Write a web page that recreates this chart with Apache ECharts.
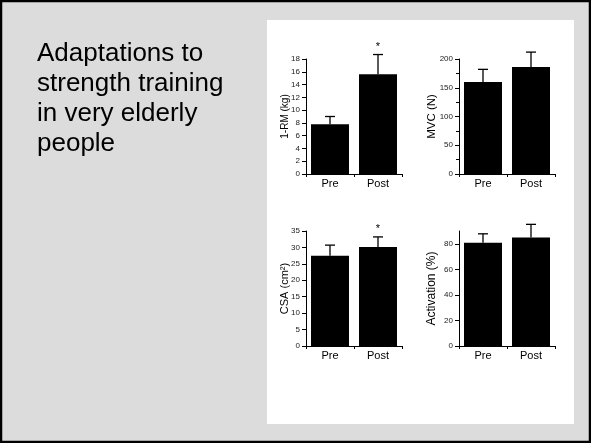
<!DOCTYPE html>
<html>
<head>
<meta charset="utf-8">
<script src="https://cdn.jsdelivr.net/npm/echarts@6/dist/echarts.min.js"></script>
<style>
  html, body { margin: 0; padding: 0; background: #dcdcdc; }
  #chart { width: 591px; height: 443px; }
</style>
</head>
<body>
<div id="chart"></div>
<script>
// Group labels shared by every panel
const categories = ['Pre', 'Post'];

// 1-RM (kg)
const rmMean = [7.8, 15.6];
const rmSD = [1.2, 3.1];
const rmSig = [0, 1];

// MVC (N)
const mvcMean = [160, 186];
const mvcSD = [22, 26];
const mvcSig = [0, 0];

// CSA (cm²)
const csaMean = [27.5, 30.1];
const csaSD = [3.2, 3.1];
const csaSig = [0, 1];

// Activation (%)
const actMean = [80.8, 85.0];
const actSD = [7.0, 10.2];
const actSig = [0, 0];

const titleLines = ['Adaptations to', 'strength training', 'in very elderly', 'people'];

const panels = [
  { name: '1-RM (kg)', mean: rmMean, sd: rmSD, sig: rmSig, max: 18, interval: 2, nameSize: 10, nameGap: 16,
    grid: { left: 306, top: 59, width: 96, height: 115 } },
  { name: 'MVC (N)', mean: mvcMean, sd: mvcSD, sig: mvcSig, max: 200, interval: 50, minor: true,
    nameSize: 11.5, nameGap: 21,
    grid: { left: 459, top: 59, width: 96, height: 115 } },
  { name: 'CSA (cm²)', mean: csaMean, sd: csaSD, sig: csaSig, max: 35, interval: 5, nameSize: 11, nameGap: 16,
    grid: { left: 306, top: 231, width: 96, height: 115 } },
  { name: 'Activation (%)', mean: actMean, sd: actSD, sig: actSig, max: 90, interval: 20,
    labelValues: [0, 20, 40, 60, 80], nameSize: 12, nameGap: 21,
    grid: { left: 459, top: 231, width: 96, height: 115 } }
];

const font = 'Liberation Sans, Arial, sans-serif';
const ink = '#000';

const grids = [], xAxes = [], yAxes = [], series = [];

panels.forEach((p, i) => {
  grids.push(Object.assign({}, p.grid));
  xAxes.push({
    type: 'category', gridIndex: i, data: categories,
    axisLine: { show: true, lineStyle: { color: ink, width: 1 } },
    axisTick: { show: true, length: 3, lineStyle: { color: ink } },
    axisLabel: { color: ink, fontSize: 11, fontFamily: font, margin: 4 },
    splitLine: { show: false }
  });
  const y = {
    type: 'value', gridIndex: i, min: 0, max: p.max, interval: p.interval,
    name: p.name, nameLocation: 'middle', nameGap: p.nameGap, nameMoveOverlap: false,
    nameTextStyle: { color: ink, fontSize: p.nameSize, fontFamily: font },
    axisLine: { show: true, lineStyle: { color: ink, width: 1 } },
    axisTick: { show: true, length: 4, lineStyle: { color: ink } },
    axisLabel: { color: '#222', fontSize: 8, fontFamily: font, margin: 6 },
    splitLine: { show: false }
  };
  if (p.labelValues) {
    y.axisLabel.customValues = p.labelValues;
    y.axisTick.customValues = p.labelValues;
  }
  if (p.minor) {
    y.minorTick = { show: true, splitNumber: 2, length: 3, lineStyle: { color: ink } };
  }
  yAxes.push(y);

  series.push({
    type: 'bar', xAxisIndex: i, yAxisIndex: i, data: p.mean,
    barWidth: 38,
    itemStyle: { color: '#000' },
    silent: true
  });

  series.push({
    type: 'custom', xAxisIndex: i, yAxisIndex: i, silent: true, clip: false, z: 3,
    data: p.mean.map((m, k) => [k, m, p.sd[k], p.sig[k]]),
    renderItem: function (params, api) {
      const x = api.value(0), m = api.value(1), e = api.value(2), s = api.value(3);
      const base = api.coord([x, m]);
      const top = api.coord([x, m + e]);
      const half = 5;
      const style = { stroke: ink, lineWidth: 1.3 };
      const children = [
        { type: 'line', shape: { x1: base[0], y1: base[1], x2: top[0], y2: top[1] }, style: style },
        { type: 'line', shape: { x1: top[0] - half, y1: top[1], x2: top[0] + half, y2: top[1] }, style: style }
      ];
      if (s) {
        children.push({
          type: 'text',
          style: { text: '*', x: top[0], y: top[1] - 2, fill: ink, fontSize: 11, fontFamily: font,
                   align: 'center', verticalAlign: 'bottom' }
        });
      }
      return { type: 'group', children: children };
    }
  });
});

const chart = echarts.init(document.getElementById('chart'), null, { renderer: 'canvas' });
chart.setOption({
  backgroundColor: '#dcdcdc',
  animation: false,
  graphic: [
    { type: 'rect', z: -10, shape: { x: 1, y: 1, width: 589, height: 441 },
      style: { fill: '#dcdcdc', stroke: '#000', lineWidth: 2.5 } },
    { type: 'rect', z: -9, shape: { x: 267, y: 20, width: 307, height: 404 },
      style: { fill: '#fff' } },
    { type: 'text', left: 37, top: 39, z: 5,
      style: { text: titleLines.join('\n'), fill: '#000', fontSize: 26, lineHeight: 30,
               fontFamily: font } }
  ],
  grid: grids,
  xAxis: xAxes,
  yAxis: yAxes,
  series: series
});
</script>
</body>
</html>
